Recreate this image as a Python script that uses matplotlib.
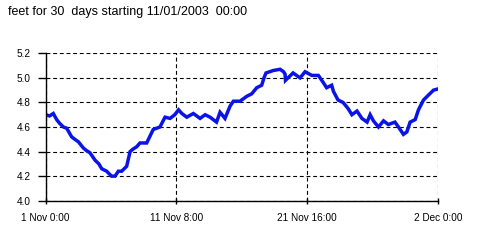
import matplotlib
matplotlib.use("Agg")
import matplotlib.pyplot as plt

# water level, feet (x = days after 1 Nov 2003 00:00)
days = [0.0, 0.3, 0.6, 0.87, 1.1, 1.4, 1.66, 2.05, 2.3, 2.58, 2.97, 3.2, 3.5, 3.9,
        4.2, 4.43, 4.82, 5.2, 5.48, 5.74, 6.0, 6.4, 6.67, 6.9, 7.2, 7.45, 7.98,
        8.5, 9.03, 9.43, 9.83, 10.2, 10.5, 10.76, 11.15, 11.67, 12.2, 12.6, 12.99,
        13.5, 13.78, 14.17, 14.57, 14.83, 15.36, 15.89, 16.28, 16.68, 17.07,
        17.25, 17.41, 17.99, 18.52, 18.8, 18.92, 18.95, 19.55, 20.1, 20.5, 21.03,
        21.55, 21.95, 22.2, 22.6, 22.74, 23.1, 23.5, 23.9, 24.2, 24.6, 24.99,
        25.4, 25.64, 25.9, 26.3, 26.7, 27.08, 27.6, 27.88, 28.27, 28.54, 28.8,
        29.2, 29.46, 29.86, 30.25, 30.65, 31.0]
feet = [4.70, 4.69, 4.71, 4.66, 4.63, 4.60, 4.59, 4.52, 4.50, 4.48, 4.43, 4.41,
        4.39, 4.33, 4.30, 4.26, 4.24, 4.20, 4.20, 4.24, 4.24, 4.28, 4.40, 4.42,
        4.44, 4.47, 4.47, 4.58, 4.60, 4.68, 4.67, 4.70, 4.74, 4.71, 4.68, 4.71,
        4.67, 4.70, 4.68, 4.64, 4.72, 4.67, 4.77, 4.81, 4.81, 4.85, 4.87, 4.92,
        4.94, 5.00, 5.04, 5.06, 5.07, 5.05, 5.03, 4.98, 5.04, 5.00, 5.05, 5.02,
        5.02, 4.96, 4.92, 4.94, 4.89, 4.82, 4.80, 4.75, 4.70, 4.73, 4.67, 4.64,
        4.70, 4.65, 4.60, 4.65, 4.62, 4.64, 4.60, 4.54, 4.56, 4.64, 4.66, 4.74,
        4.82, 4.86, 4.90, 4.91]

x_ticks = [0, 31 / 3, 62 / 3, 31]
x_labels = ["1 Nov 0:00", "11 Nov 8:00", "21 Nov 16:00", "2 Dec 0:00"]
y_ticks = [4.0, 4.2, 4.4, 4.6, 4.8, 5.0, 5.2]
title = "feet for 30  days starting 11/01/2003  00:00"

plt.rcParams['font.family'] = ['Liberation Sans', 'DejaVu Sans']

fig = plt.figure(figsize=(4.85, 2.41), dpi=100)
ax = fig.add_axes([0.0942, 0.1672, 0.8088, 0.6116])
ax.plot(days, feet, color='#0A14E6', lw=2.5, solid_joinstyle='miter')

ax.set_xlim(0, 31)
ax.set_ylim(4.0, 5.2)
ax.set_xticks(x_ticks)
ax.set_xticklabels(x_labels)
ax.set_yticks(y_ticks)
ax.set_yticklabels([f"{v:.1f}" for v in y_ticks])
ax.grid(True, color='black', linestyle=(0, (3.5, 2.5)), lw=0.8)
for s in ['top', 'right']:
    ax.spines[s].set_visible(False)
for s in ['left', 'bottom']:
    ax.spines[s].set_linewidth(1.0)
ax.tick_params(axis='y', direction='out', length=6, width=1, pad=5, labelsize=7.2)
ax.tick_params(axis='x', direction='inout', length=5, width=1, pad=6, labelsize=7.2)

fig.text(8 / 485, 1 - 12 / 241, title, fontsize=9, va='center', ha='left')

fig.savefig("out.png", dpi=100)
